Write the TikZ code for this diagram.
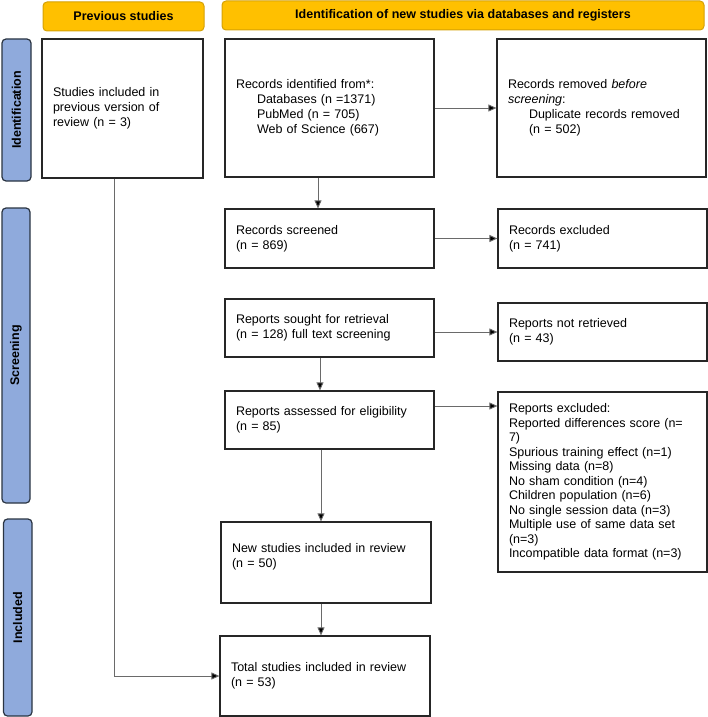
\documentclass[tikz,border=0pt]{standalone}
\usepackage{fontspec}
\setmainfont{Liberation Sans}
\usetikzlibrary{arrows.meta,calc}
\definecolor{hdrgold}{HTML}{FFC000}
\definecolor{hdrline}{HTML}{D4A106}
\definecolor{sideblue}{HTML}{8FAADC}
\definecolor{sideline}{HTML}{2A3442}
\definecolor{conn}{HTML}{6A6A6A}
\begin{document}
\begin{tikzpicture}[x=1pt,y=-1pt,
  every node/.style={font=\fontsize{12.5}{15}\selectfont},
  box/.style={draw=black!85, line width=1.2pt, fill=white, rectangle, align=left, inner xsep=11pt, inner ysep=0pt},
  hdr/.style={draw=hdrline, line width=1pt, fill=hdrgold, rounded corners=4pt, font=\fontsize{12.5}{15}\selectfont\bfseries, inner sep=0pt},
  side/.style={draw=sideline, line width=1.2pt, fill=sideblue, rounded corners=4pt, font=\fontsize{12.5}{15}\selectfont\bfseries, inner sep=0pt},
  arr/.style={draw=conn, line width=0.9pt, -{Triangle[length=8pt,width=7pt,fill=black]}}
]
\useasboundingbox (0,0) rectangle (708,717);
% headers
\node[hdr, minimum width=161pt, minimum height=29pt] (prevhdr) at (123.5,16.5) {Previous studies};
\node[hdr, minimum width=482pt, minimum height=29pt] (idhdr) at (463,15.5) {Identification of new studies via databases and registers};
% side labels
\node[side, minimum width=29pt, minimum height=142pt] (sideid) at (16.5,110) {};
\node[rotate=90, font=\fontsize{12.5}{15}\selectfont\bfseries] (sideidt) at (sideid.center) {Identification};
\node[side, minimum width=28pt, minimum height=295pt] (sidescr) at (16,355.5) {};
\node[rotate=90, font=\fontsize{12.5}{15}\selectfont\bfseries] (sidescrt) at (sidescr.center) {Screening};
\node[side, minimum width=28.5pt, minimum height=197pt] (sideinc) at (17.75,617.5) {};
\node[rotate=90, font=\fontsize{12.5}{15}\selectfont\bfseries] (sideinct) at (sideinc.center) {Included};
% boxes
\node[box, minimum width=161pt, minimum height=139pt, text width=139pt] (prev) at (122.5,108.5)
  {Studies included in\\previous version of\\review (n = 3)};
\node[box, minimum width=209pt, minimum height=138pt, text width=187pt] (ident) at (329.5,108)
  {Records identified from*:\\\hspace*{21pt}Databases (n =1371)\\\hspace*{21pt}PubMed (n = 705)\\\hspace*{21pt}Web of Science (667)};
\node[box, minimum width=209pt, minimum height=138pt, text width=187pt] (removed) at (601.5,108)
  {Records removed \textit{before}\\\textit{screening}:\\\hspace*{21pt}Duplicate records removed\\\hspace*{21pt}(n = 502)};
\node[box, minimum width=209pt, minimum height=59pt, text width=187pt] (screened) at (329.5,238.5)
  {Records screened\\(n = 869)};
\node[box, minimum width=209pt, minimum height=59pt, text width=187pt] (excluded) at (602.5,238.5)
  {Records excluded\\(n = 741)};
\node[box, minimum width=209pt, minimum height=58pt, text width=187pt] (sought) at (329.5,328)
  {Reports sought for retrieval\\(n = 128) full text screening};
\node[box, minimum width=209pt, minimum height=58pt, text width=187pt] (notret) at (602.5,332)
  {Reports not retrieved\\(n = 43)};
\node[box, minimum width=209pt, minimum height=58pt, text width=187pt] (assessed) at (329.5,420)
  {Reports assessed for eligibility\\(n = 85)};
\node[box, minimum width=209pt, minimum height=180pt, text width=187pt, font=\fontsize{12.5}{14.5}\selectfont] (repexcl) at (602.5,482)
  {Reports excluded:\\Reported differences score (n=\\7)\\Spurious training effect (n=1)\\Missing data (n=8)\\No sham condition (n=4)\\Children population (n=6)\\No single session data (n=3)\\Multiple use of same data set\\(n=3)\\Incompatible data format (n=3)};
\node[box, minimum width=210pt, minimum height=81pt, text width=188pt] (newst) at (326,562.5)
  {New studies included in review\\(n = 50)\\~};
\node[box, minimum width=210pt, minimum height=80pt, text width=188pt] (total) at (325,676)
  {Total studies included in review\\(n = 53)};
% connectors
\draw[arr] ([xshift=-11.5pt]ident.south) -- ([xshift=-11.5pt]screened.north);
\draw[arr] (ident.east) -- (removed.west);
\draw[arr] (screened.east) -- (excluded.west);
\draw[arr] (notret.west -| sought.east) -- (notret.west);
\draw[arr] ([xshift=-9.5pt]sought.south) -- ([xshift=-9.5pt]assessed.north);
\draw[arr] ([yshift=14pt]assessed.east) -- ([yshift=14pt]assessed.east -| repexcl.west);
\draw[arr] ([xshift=-8.5pt]assessed.south) -- ([xshift=-8.5pt]assessed.south |- newst.north);
\draw[arr] ([xshift=-5pt]newst.south) -- ([xshift=-5pt]newst.south |- total.north);
\draw[arr] ([xshift=-8.5pt]prev.south) |- (total.west);
\end{tikzpicture}
\end{document}
